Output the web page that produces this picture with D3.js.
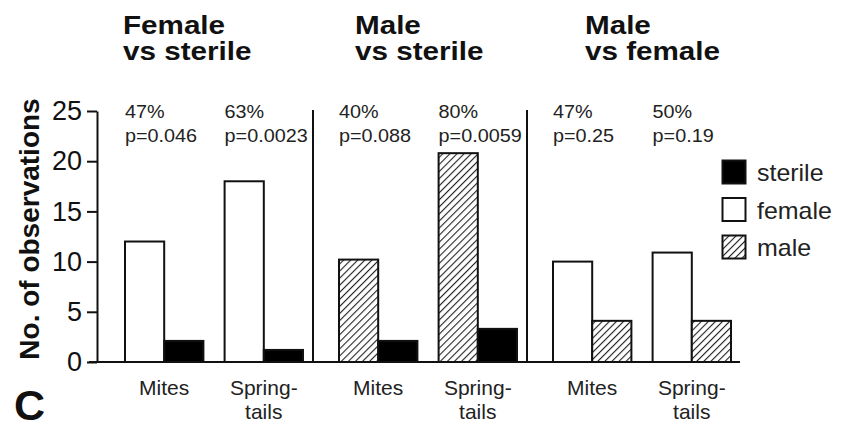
<!DOCTYPE html>
<html>
<head>
<meta charset="utf-8">
<script src="https://cdn.jsdelivr.net/npm/d3@7"></script>
<style>
  html, body { margin: 0; padding: 0; background: #fff; }
  svg { display: block; font-family: "Liberation Sans", Arial, Helvetica, sans-serif; }
</style>
</head>
<body>
<svg id="chart" width="845" height="426"></svg>
<script>
// ---- data ----
const panels = ["Female vs sterile", "Male vs sterile", "Male vs female"];
const titleLines = [["Female", "vs sterile"], ["Male", "vs sterile"], ["Male", "vs female"]];
const categories = ["Mites", "Springtails"];
const categoryLabels = [["Mites"], ["Spring-", "tails"]];
const seriesNames = ["sterile", "female", "male"];
// left bar / right bar per panel
const leftSeries = ["female", "male", "female"];
const rightSeries = ["sterile", "sterile", "male"];
const leftValues = [[12, 18], [10.2, 20.8], [10, 10.9]];
const rightValues = [[2.1, 1.2], [2.1, 3.3], [4.1, 4.1]];
const percents = [["47%", "63%"], ["40%", "80%"], ["47%", "50%"]];
const pValues = [["p=0.046", "p=0.0023"], ["p=0.088", "p=0.0059"], ["p=0.25", "p=0.19"]];
const yTicks = [0, 5, 10, 15, 20, 25];

// ---- layout ----
const svg = d3.select("#chart");
const axisX = 97, baseY = 362, topY = 111;
const y = d3.scaleLinear().domain([0, 25]).range([baseY, topY]);
const panelX = d3.scaleBand().domain(panels).range([99, 741]).padding(0);
const groupX = d3.scaleBand().domain(categories).range([26, 204]).paddingInner(0.213);
const barX = d3.scaleBand().domain(["left", "right"]).range([0, groupX.bandwidth()]);

// hatch pattern
const defs = svg.append("defs");
const pat = defs.append("pattern")
  .attr("id", "hatch").attr("patternUnits", "userSpaceOnUse")
  .attr("width", 5).attr("height", 5)
  .attr("patternTransform", "rotate(45)");
pat.append("rect").attr("width", 5).attr("height", 5).attr("fill", "#fff");
pat.append("line").attr("x1", 0).attr("y1", 0).attr("x2", 0).attr("y2", 5)
  .attr("stroke", "#222").attr("stroke-width", 2.2);

const fillFor = s => s === "sterile" ? "#000" : (s === "female" ? "#fff" : "url(#hatch)");

// y axis
const yAxis = d3.axisLeft(y).tickValues(yTicks).tickSize(10).tickPadding(5).tickSizeOuter(0);
const gy = svg.append("g").attr("transform", `translate(${axisX},0)`).call(yAxis);
gy.select(".domain").attr("stroke", "#111").attr("stroke-width", 2);
gy.selectAll(".tick line").attr("stroke", "#111").attr("stroke-width", 2);
gy.selectAll(".tick text").attr("font-size", 27).attr("fill", "#111")
  .attr("font-family", "Liberation Sans, Arial, sans-serif");

// y label
svg.append("text")
  .attr("transform", `translate(39,${(baseY + 96) / 2}) rotate(-90)`)
  .attr("text-anchor", "middle").attr("font-size", 28).attr("font-weight", "bold")
  .attr("fill", "#111").text("No. of observations");

// baseline
svg.append("line").attr("x1", 89).attr("x2", 740).attr("y1", baseY).attr("y2", baseY)
  .attr("stroke", "#111").attr("stroke-width", 2);

// dividers
panels.slice(1).forEach(p => {
  const xx = panelX(p);
  svg.append("line").attr("x1", xx).attr("x2", xx).attr("y1", topY - 1).attr("y2", baseY)
    .attr("stroke", "#111").attr("stroke-width", 2);
});

// panels
const titleX = [123, 355, 585];
panels.forEach((p, pi) => {
  const g = svg.append("g").attr("transform", `translate(${panelX(p)},0)`);
  categories.forEach((c, ci) => {
    const gx = groupX(c);
    const bars = [
      { side: "left", s: leftSeries[pi], v: leftValues[pi][ci] },
      { side: "right", s: rightSeries[pi], v: rightValues[pi][ci] }
    ];
    bars.forEach(b => {
      g.append("rect")
        .attr("x", gx + barX(b.side)).attr("width", barX.bandwidth())
        .attr("y", y(b.v)).attr("height", y(0) - y(b.v))
        .attr("fill", fillFor(b.s)).attr("stroke", "#111").attr("stroke-width", 2);
    });
    // annotations
    const ann = g.append("text").attr("font-size", 18).attr("fill", "#222")
      .attr("transform", `translate(${gx},0) scale(1.1,1)`);
    ann.append("tspan").attr("x", 0).attr("y", 118).text(percents[pi][ci]);
    ann.append("tspan").attr("x", 0).attr("y", 142).text(pValues[pi][ci]);
    // category labels
    const lab = g.append("text").attr("font-size", 21).attr("fill", "#222")
      .attr("text-anchor", "middle");
    categoryLabels[ci].forEach((t, li) => {
      lab.append("tspan").attr("x", gx + groupX.bandwidth() / 2).attr("y", 395 + li * 24).text(t);
    });
  });
  // titles
  const tt = svg.append("text").attr("font-size", 26).attr("font-weight", "bold").attr("fill", "#111")
    .attr("transform", `translate(${titleX[pi]},0) scale(1.14,1)`);
  titleLines[pi].forEach((t, li) => {
    tt.append("tspan").attr("x", 0).attr("y", 34 + li * 26).text(t);
  });
});

// legend
const legend = svg.append("g").attr("transform", "translate(722,160)");
seriesNames.forEach((s, i) => {
  const row = legend.append("g").attr("transform", `translate(0,${i * 37.5})`);
  row.append("rect").attr("width", 23).attr("height", 23).attr("x", 0.5).attr("y", 0.5)
    .attr("fill", fillFor(s)).attr("stroke", "#111").attr("stroke-width", 2);
  row.append("text").attr("x", 35).attr("y", 21).attr("font-size", 24).attr("fill", "#222")
    .text(s)
    .attr("transform", "translate(35,0) scale(1.04,1) translate(-35,0)");
});

// panel letter
svg.append("text").attr("x", 14).attr("y", 420).attr("font-size", 43).attr("font-weight", "bold")
  .attr("fill", "#111").text("C");
</script>
</body>
</html>
